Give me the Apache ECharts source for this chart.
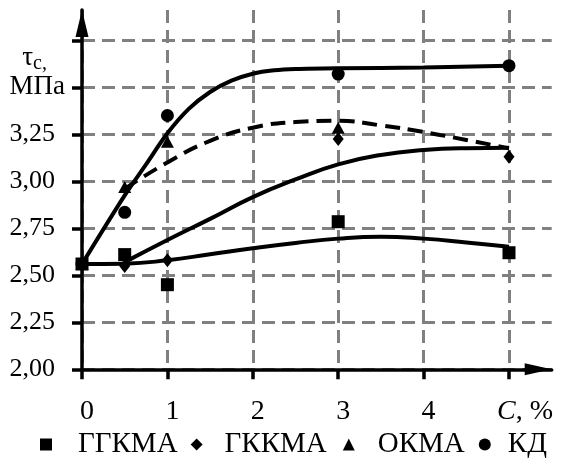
<!DOCTYPE html>
<html><head><meta charset="utf-8">
<script src="https://cdn.jsdelivr.net/npm/echarts@6/dist/echarts.min.js"></script>
<style>html,body{margin:0;padding:0;background:#fff}#c{width:561px;height:459px}</style>
</head><body><div id="c"></div>
<script>
// ---- data ----
const xTicks = [0, 1, 2, 3, 4, 5];
const xTickLabels = ['0', '1', '2', '3', '4', 'C, %'];
const yTicks = [2, 2.25, 2.5, 2.75, 3, 3.25, 3.5, 3.75];
const yTickLabels = ['2,00', '2,25', '2,50', '2,75', '3,00', '3,25', 'МПа', 'τc,'];
const seriesNames = ['ГГКМА', 'ГККМА', 'ОКМА', 'КД'];
const ggkmaPts = [[0, 2.56], [0.5, 2.61], [1, 2.45], [3, 2.785], [5, 2.62]];
const gkkmaPts = [[0, 2.56], [0.5, 2.55], [1, 2.58], [3, 3.225], [5, 3.13]];
const okmaPts = [[0, 2.56], [0.5, 2.97], [1, 3.21], [3, 3.285]];
const kdPts = [[0, 2.56], [0.5, 2.835], [1, 3.35], [3, 3.57], [5, 3.615]];
// trend curves
const curveKD = [[0, 2.56], [0.5, 2.925], [0.75, 3.09], [1, 3.255], [1.25, 3.385], [1.5, 3.475], [1.75, 3.535], [2, 3.572], [2.25, 3.59], [2.5, 3.597], [3, 3.601], [4, 3.605], [5, 3.615]];
const curveDash = [[0.5, 2.96], [1, 3.1], [1.5, 3.215], [2, 3.285], [2.5, 3.315], [3, 3.322], [3.5, 3.297], [4, 3.262], [4.5, 3.22], [5, 3.175]];
const curveMid = [[0.5, 2.57], [1, 2.688], [1.5, 2.8], [2, 2.916], [2.5, 3.01], [3, 3.09], [3.5, 3.14], [4, 3.166], [4.5, 3.176], [5, 3.178]];
const curveLow = [[0, 2.56], [0.5, 2.562], [1, 2.58], [1.5, 2.612], [2, 2.644], [2.5, 2.672], [3, 2.695], [3.5, 2.705], [4, 2.695], [4.5, 2.675], [5, 2.652]];

const FONT = 'Liberation Serif, Times New Roman, serif';
const chart = echarts.init(document.getElementById('c'), null, {renderer: 'canvas'});

function idxOf(arr, v) { for (let i = 0; i < arr.length; i++) if (Math.abs(arr[i] - v) < 1e-6) return i; return -1; }

const gridStyle = {color: '#808080', width: 3, type: [13, 7]};
const curveLine = (data, dashed, smooth) => ({
  type: 'line', data: data, smooth: smooth, showSymbol: false, symbol: 'none', silent: true,
  lineStyle: {color: '#000', width: 4, type: dashed ? [15, 8] : 'solid'}, z: 3
});
const markerSeries = (name, data, symbol, size) => ({
  type: 'scatter', name: name, data: data, symbol: symbol, symbolSize: size,
  itemStyle: {color: '#000', opacity: 1}, z: 4
});

const GRID_LEFT = 82, LABEL_MARGIN = 17, GRID_TOP = 10, GRID_BOTTOM = 89.7, Y_MIN = 2, Y_MAX = 3.911;
const topTickY = GRID_TOP + (Y_MAX - yTicks[yTicks.length - 1]) / (Y_MAX - Y_MIN) * (459 - GRID_TOP - GRID_BOTTOM);
const unitLabel = yTickLabels[yTickLabels.length - 1];

chart.setOption({
  animation: false,
  backgroundColor: '#fff',
  grid: {left: GRID_LEFT, right: 9.3, top: GRID_TOP, bottom: GRID_BOTTOM, outerBoundsMode: 'none', containLabel: false},
  graphic: [{
    type: 'text', x: GRID_LEFT - LABEL_MARGIN, y: topTickY, silent: true,
    style: {
      text: '{t|' + unitLabel.charAt(0) + '}{s|' + unitLabel.slice(1) + '}',
      align: 'right', verticalAlign: 'middle',
      rich: {
        t: {fontFamily: FONT, fontSize: 27, fill: '#000', verticalAlign: 'bottom', padding: [37, 0, 2, 0]},
        s: {fontFamily: FONT, fontSize: 20, fill: '#000', verticalAlign: 'bottom', padding: [0, 18, 0, 0]}
      }
    }
  }],
  xAxis: {
    type: 'value', min: 0, max: 5.5, interval: 1,
    axisLine: {show: true, onZero: false, symbol: ['none', 'triangle'], symbolSize: [12, 27], symbolOffset: [0, -13.5],
      lineStyle: {color: '#000', width: 3.5}},
    axisTick: {show: true, customValues: xTicks, length: 10, inside: false, lineStyle: {color: '#000', width: 3.5}},
    axisLabel: {show: true, customValues: xTicks, margin: 28, color: '#000', fontFamily: FONT, fontSize: 28,
      showMinLabel: true, showMaxLabel: true, hideOverlap: false,
      formatter: function (v) {
        const i = idxOf(xTicks, v);
        if (i < 0) return '';
        if (i === xTicks.length - 1) { const s = xTickLabels[i]; return '{c|' + s.charAt(0) + '}{p|' + s.slice(1) + '}'; }
        return '{n|' + xTickLabels[i] + '}';
      },
      rich: {
        n: {fontFamily: FONT, fontSize: 28, color: '#000', padding: [0, 0, 0, 10]},
        c: {fontFamily: FONT, fontSize: 28, color: '#000', fontStyle: 'italic', padding: [0, 0, 0, 32]},
        p: {fontFamily: FONT, fontSize: 28, color: '#000'}
      }
    },
    splitLine: {show: true, lineStyle: gridStyle}
  },
  yAxis: {
    type: 'value', min: Y_MIN, max: Y_MAX, interval: 0.25,
    axisLine: {show: true, onZero: false, symbol: ['none', 'triangle'], symbolSize: [13, 27], symbolOffset: [0, -13.5],
      lineStyle: {color: '#000', width: 3.5}},
    axisTick: {show: true, customValues: yTicks, length: 10, inside: false, lineStyle: {color: '#000', width: 3.5}},
    axisLabel: {show: true, customValues: yTicks.slice(0, yTicks.length - 1), margin: LABEL_MARGIN, color: '#000', fontFamily: FONT, fontSize: 26,
      showMinLabel: true, showMaxLabel: true, hideOverlap: false,
      formatter: function (v) {
        const i = idxOf(yTicks, v);
        if (i < 0 || i === yTicks.length - 1) return '';
        const s = yTickLabels[i];
        if (i === yTicks.length - 2) return '{m|' + s + '}';
        return '{n|' + s + '}';
      },
      rich: {
        n: {fontFamily: FONT, fontSize: 26, color: '#000', padding: [0, 10, 0, 0]},
        m: {fontFamily: FONT, fontSize: 27, color: '#000'}
      }
    },
    splitLine: {show: true, lineStyle: gridStyle}
  },
  legend: {
    show: true, orient: 'horizontal', left: 35, top: 425, itemWidth: 12, itemHeight: 12, itemGap: 13,
    textStyle: {fontFamily: FONT, fontSize: 29, color: '#000', lineHeight: 28},
    data: [
      {name: seriesNames[0], icon: 'rect', textStyle: {padding: [0, 0, 0, 21]}},
      {name: seriesNames[1], icon: 'diamond', textStyle: {padding: [0, 3, 0, 17]}},
      {name: seriesNames[2], icon: 'triangle', textStyle: {padding: [0, 1, 0, 18]}},
      {name: seriesNames[3], icon: 'circle', textStyle: {padding: [0, 0, 0, 12]}}
    ]
  },
  series: [
    curveLine(curveLow, false, 0.5),
    curveLine(curveMid, false, 0.5),
    curveLine(curveDash, true, 0.5),
    curveLine(curveKD, false, 0.3),
    markerSeries(seriesNames[0], ggkmaPts, 'rect', 13),
    markerSeries(seriesNames[1], gkkmaPts, 'diamond', [11, 14]),
    markerSeries(seriesNames[2], okmaPts, 'triangle', [13, 12]),
    markerSeries(seriesNames[3], kdPts, 'circle', 13)
  ]
});
</script></body></html>
